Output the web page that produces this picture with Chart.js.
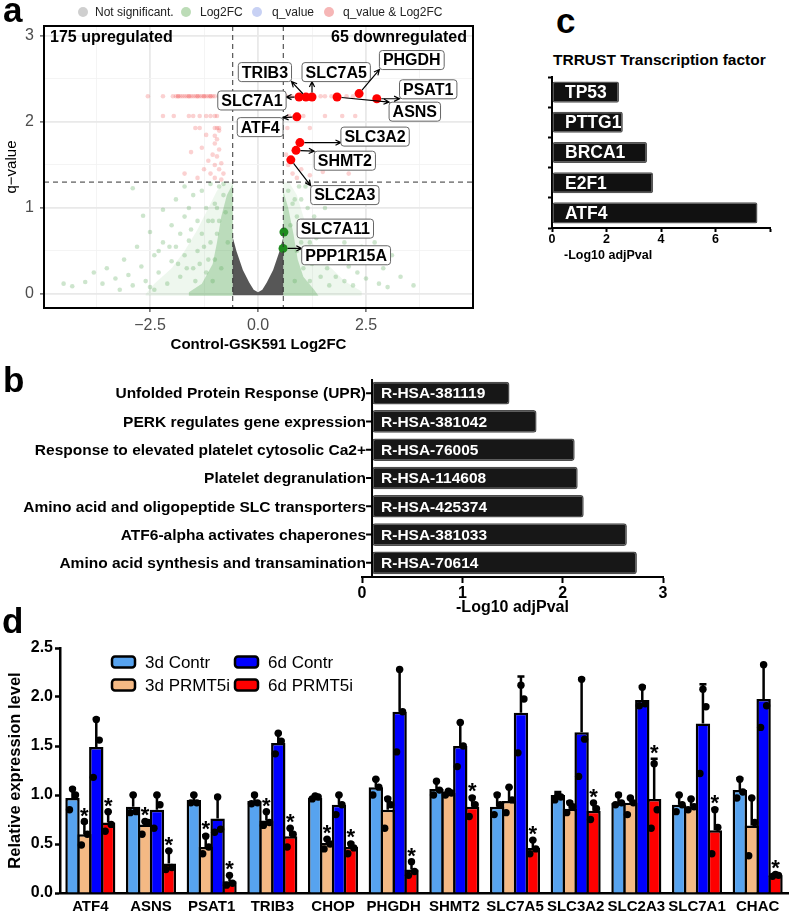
<!DOCTYPE html>
<html>
<head>
<meta charset="utf-8">
<script src="https://cdn.jsdelivr.net/npm/chart.js@4.4.1/dist/chart.umd.min.js"></script>
<style>
  body { margin: 0; background: #fff; width: 790px; height: 916px; position: relative; overflow: hidden;
         font-family: "Liberation Sans", Arial, sans-serif; }
  canvas { position: absolute; }
  .letter { position: absolute; font-weight: bold; font-size: 35px; line-height: 1; }
  .lg { position: absolute; top: 5px; font-size: 12px; color: #222; line-height: 14px; }
  .dot { position: absolute; top: 7px; width: 10px; height: 10px; border-radius: 50%; }
  .txt { position: absolute; font-weight: bold; white-space: nowrap; }
</style>
</head>
<body>
<canvas id="volcano" width="480" height="360" style="left:0;top:0"></canvas>
<canvas id="trrust" width="260" height="193" style="left:530px;top:70px"></canvas>
<canvas id="reactome" width="700" height="241" style="left:0;top:378px"></canvas>
<canvas id="qpcr" width="790" height="288" style="left:0;top:628px"></canvas>

<div class="letter" style="left:3px;top:-8px">a</div>
<div class="letter" style="left:3px;top:362px">b</div>
<div class="letter" style="left:556px;top:3px">c</div>
<div class="letter" style="left:2px;top:603px">d</div>

<div class="dot" style="left:78px;background:#cfcfcf"></div><div class="lg" style="left:95px">Not significant.</div>
<div class="dot" style="left:181px;background:#bcdcb7"></div><div class="lg" style="left:200px">Log2FC</div>
<div class="dot" style="left:252px;background:#c8d1f4"></div><div class="lg" style="left:272px">q_value</div>
<div class="dot" style="left:324px;background:#f6b6b6"></div><div class="lg" style="left:343px">q_value &amp; Log2FC</div>

<div class="txt" style="left:553px;top:51px;font-size:15.5px">TRRUST Transcription factor</div>
<div class="txt" style="left:564px;top:248px;font-size:12.5px">-Log10 adjPval</div>

<script>
Chart.defaults.font.family = '"Liberation Sans", Arial, sans-serif';
Chart.defaults.color = "#000";

// ---- panel a: volcano ----
const volcXTicks = [-3.75, -2.5, -1.25, 0, 1.25, 2.5, 3.75];
const volcXLabels = [-2.5, 0, 2.5];
const volcYTicks = [0, 0.5, 1, 1.5, 2, 2.5, 3];
const volcYLabels = [0, 1, 2, 3];
const fcCut = [-0.585, 0.585];
const qCut = 1.301;
const upCount = "175 upregulated";
const downCount = "65 downregulated";

// outline of the dense grey (not significant) cloud
const greyCloud = [[-0.585,-0.015],[-0.585,0.66],[-0.5,0.5],[-0.35,0.28],[-0.2,0.13],[-0.1,0.05],[0,0.02],
  [0.1,0.05],[0.2,0.13],[0.35,0.28],[0.5,0.5],[0.585,0.66],[0.585,-0.015]];
// outlines of the dense green clouds
const greenLightL = [[-0.585,-0.02],[-0.585,1.3],[-0.75,1.3],[-0.95,1.2],[-1.15,1.0],[-1.4,0.75],[-1.7,0.5],[-2.0,0.3],[-2.4,0.12],[-2.6,0.0],[-2.6,-0.02]];
const greenDenseL = [[-0.585,-0.02],[-0.585,1.28],[-0.72,1.15],[-0.85,0.9],[-0.95,0.6],[-1.05,0.35],[-1.3,0.12],[-1.6,0.02],[-1.6,-0.02]];
const greenLightR = [[0.585,-0.02],[0.585,1.3],[0.72,1.3],[0.9,1.15],[1.05,0.9],[1.25,0.6],[1.6,0.35],[2.0,0.15],[2.4,0.03],[2.4,-0.02]];
const greenDenseR = [[0.585,-0.02],[0.585,1.2],[0.7,1.0],[0.82,0.7],[0.92,0.4],[1.05,0.2],[1.3,0.05],[1.4,-0.02]];

const greenPts = [[-4.5,0.12],[-4.3,0.09],[-4.0,0.14],[-3.8,0.25],[-3.6,0.12],[-3.5,0.3],[-3.3,0.18],[-3.2,0.05],
  [-3.1,0.4],[-3.0,0.22],[-2.9,1.23],[-2.9,0.1],[-2.8,0.55],[-2.7,0.32],[-2.66,0.91],[-2.6,0.15],[-2.5,0.72],
  [-2.5,0.08],[-2.4,0.45],[-2.3,0.25],[-2.2,0.98],[-2.2,0.6],[-2.1,0.12],[-2.0,0.38],[-2.0,0.8],[-1.9,1.1],
  [-1.9,0.55],[-1.8,0.2],[-1.8,0.7],[-1.7,1.25],[-1.7,0.9],[-1.7,0.45],[-1.6,0.62],[-1.6,1.0],[-1.5,1.15],
  [-1.5,0.3],[-1.4,0.85],[-1.4,0.5],[-1.3,1.2],[-1.3,0.7],[-1.2,1.0],[-1.2,0.25],[-1.1,1.28],[-1.1,0.6],
  [-1.0,1.05],[-1.0,0.4],[-0.9,1.25],[-0.9,0.85],[-0.8,1.15],[-0.75,0.95],[-0.7,0.6],[-1.15,0.85],[-1.35,0.35],
  [-1.55,0.75],[-1.85,0.35],[-2.3,0.5],[-0.85,0.3],[-0.95,0.7],[-1.05,0.15],[-0.8,1.28],
  [-1.25,0.55],[-1.45,0.15],[-1.65,0.3],[-2.05,0.55],[-2.4,0.05],[-1.15,0.4],[-0.95,1.0],[-1.05,0.85],
  [0.7,1.2],[0.8,1.05],[0.9,0.9],[1.0,1.1],[1.1,0.8],[1.2,0.6],[1.3,0.9],[1.4,0.45],[1.5,0.7],[1.6,0.3],
  [1.7,0.5],[1.8,0.2],[1.9,0.4],[2.0,0.15],[2.1,0.32],[2.2,0.1],[2.3,0.25],[2.5,0.18],[2.6,0.4],[2.8,0.12],
  [2.9,0.3],[3.0,0.08],[3.3,0.2],[3.6,0.1],[1.3,1.2],[1.1,1.25],[1.55,1.0],[2.0,0.6],[2.4,0.55],[1.25,0.35],
  [0.9,0.5],[1.05,0.3],[0.75,0.8],[0.95,1.25],[1.15,1.0],[1.45,0.2],[1.75,0.75],[2.7,0.6],[3.1,0.45],[0.85,0.15],
  [1.0,0.6],[1.2,0.15],[1.35,0.65],[1.65,0.1],[2.15,0.45],[1.15,0.5],[0.85,1.1]];

const redPalePts = [[-2.55,2.3],[-2.2,2.3],[-1.97,2.3],[-1.9,2.3],[-1.85,2.3],[-1.8,2.3],[-1.75,2.3],[-1.7,2.3],
  [-1.65,2.3],[-1.6,2.3],[-1.55,2.3],[-1.5,2.3],[-1.45,2.3],[-1.4,2.3],[-1.35,2.3],[-1.3,2.3],[-1.25,2.3],
  [-1.2,2.3],[-1.15,2.3],[-1.1,2.3],[-1.05,2.3],[-1.0,2.3],[-0.9,2.3],[-1.85,2.3],[-1.6,2.3],[-1.4,2.3],
  [-1.25,2.3],[-1.1,2.3],[0.65,2.3],[0.78,2.3],[1.45,2.3],[1.55,2.3],[1.7,2.3],[2.05,2.3],[2.2,2.3],
  [-2.2,2.07],[-1.95,2.07],[-1.6,2.07],[-1.5,2.07],[-1.35,2.07],[-1.2,2.07],[-1.1,2.07],[-1.0,2.07],[-0.95,2.07],
  [0.72,2.07],[1.05,2.07],[1.55,2.07],[1.95,2.07],[2.25,2.07],
  [-1.45,1.93],[-1.35,1.93],[-1.0,1.93],[-0.95,1.93],[-0.9,1.93],[0.68,1.93],[1.2,1.93],
  [-1.2,1.85],[-0.95,1.8],[-1.0,1.75],[-1.3,1.7],[-0.9,1.68],[-1.05,1.62],[-0.95,1.6],[-1.15,1.55],[-0.85,1.52],
  [-1.0,1.5],[-1.25,1.45],[-0.9,1.45],[-1.1,1.4],[-0.8,1.4],[-1.4,1.35],[-1.0,1.35],[-0.85,1.33],[-1.55,1.65],
  [-1.7,1.4],[-0.9,1.9],[-1.0,1.84],
  [0.7,1.5],[0.8,1.4],[0.65,1.62],[1.0,1.45],[1.2,1.38],[1.5,1.42],[0.9,1.35],[2.1,1.4]];

// labelled significant genes (red) and labelled fold-change-only genes (green)
const hitGenes = ["SLC7A1", "TRIB3", "SLC7A5", "ASNS", "PHGDH", "PSAT1", "ATF4", "SLC3A2", "SHMT2", "SLC2A3"];
const hitFC = [0.95, 1.11, 1.25, 1.83, 2.34, 2.75, 0.90, 0.97, 0.88, 0.76];
const hitQ = [2.29, 2.29, 2.29, 2.29, 2.33, 2.27, 2.06, 1.76, 1.67, 1.56];
const hitLabX = [-0.14, 0.16, 1.81, 3.63, 3.56, 3.94, 0.05, 2.71, 2.01, 2.01];
const hitLabY = [2.25, 2.58, 2.58, 2.12, 2.72, 2.38, 1.94, 1.83, 1.55, 1.15];
const fcGenes = ["SLC7A11", "PPP1R15A"];
const fcFC = [0.60, 0.58];
const fcQ = [0.72, 0.53];
const fcLabX = [1.79, 2.04];
const fcLabY = [0.76, 0.45];
const fcArrow = [false, true];

// ---- panel b: reactome ----
const reactomeTerms = ["Unfolded Protein Response (UPR)", "PERK regulates gene expression",
  "Response to elevated platelet cytosolic Ca2+", "Platelet degranulation",
  "Amino acid and oligopeptide SLC transporters", "ATF6-alpha activates chaperones",
  "Amino acid synthesis and transamination"];
const reactomeIds = ["R-HSA-381119", "R-HSA-381042", "R-HSA-76005", "R-HSA-114608", "R-HSA-425374", "R-HSA-381033", "R-HSA-70614"];
const reactomeScore = [1.47, 1.74, 2.12, 2.15, 2.21, 2.64, 2.74];
const reactomeBase = 0.1;

// ---- panel c: TRRUST ----
const tfNames = ["TP53", "PTTG1", "BRCA1", "E2F1", "ATF4"];
const tfScore = [2.46, 2.6, 3.49, 3.71, 7.54];

// ---- panel d: qPCR ----
const genes = ["ATF4", "ASNS", "PSAT1", "TRIB3", "CHOP", "PHGDH", "SHMT2", "SLC7A5", "SLC3A2", "SLC2A3", "SLC7A1", "CHAC"];
const contr3 = [0.97, 0.88, 0.95, 0.94, 0.97, 1.08, 1.06, 0.88, 1.00, 0.92, 0.90, 1.05];
const prmt3 = [0.60, 0.70, 0.47, 0.74, 0.51, 0.85, 1.02, 0.94, 0.86, 0.92, 0.88, 0.69];
const contr6 = [1.49, 0.85, 0.76, 1.53, 0.90, 1.85, 1.50, 1.84, 1.64, 1.97, 1.73, 1.98];
const prmt6 = [0.72, 0.30, 0.12, 0.58, 0.47, 0.24, 0.88, 0.46, 0.84, 0.96, 0.64, 0.18];
const contr3Err = [1.07, 1.00, 1.00, 1.00, 0.99, 1.16, 1.14, 1.01, 1.03, 1.01, 1.00, 1.17];
const prmt3Err = [0.72, 0.73, 0.59, 0.83, 0.55, 0.97, 1.04, 1.08, 0.93, 0.97, 0.96, 0.97];
const contr6Err = [1.78, 1.00, 0.98, 1.63, 1.00, 2.28, 1.74, 2.21, 2.19, 2.11, 2.13, 2.33];
const prmt6Err = [0.83, 0.43, 0.18, 0.66, 0.51, 0.32, 0.98, 0.54, 0.92, 1.37, 0.86, 0.19];
const contr3Dots = [[1.06,1.0,0.85],[1.0,0.83,0.82],[1.0,0.92,0.92],[1.0,0.92,0.91],[0.99,0.98,0.96],[1.16,1.08,1.0],
  [1.14,1.05,1.0],[1.0,0.9,0.8],[1.0,0.98,0.95],[1.0,0.92,0.9],[1.0,0.9,0.83],[1.16,1.03,0.97]];
const prmt3Dots = [[0.73,0.6,0.49],[0.73,0.72,0.6],[0.58,0.47,0.4],[0.83,0.72,0.69],[0.55,0.5,0.45],[0.96,0.9,0.66],
  [1.04,1.02,1.0],[1.08,0.95,0.82],[0.92,0.88,0.82],[0.97,0.92,0.8],[0.96,0.88,0.85],[0.97,0.72,0.38]];
const contr6Dots = [[1.77,1.56,1.18],[1.0,0.9,0.66],[0.98,0.65,0.62],[1.63,1.55,1.42],[1.0,0.9,0.8],[2.28,1.85,1.44],
  [1.74,1.5,1.29],[2.12,1.98,1.43],[2.18,1.57,1.19],[2.1,1.93,1.91],[2.08,1.9,1.22],[2.33,1.91,1.69]];
const prmt6Dots = [[0.83,0.7,0.63],[0.43,0.26,0.24],[0.18,0.1,0.08],[0.66,0.6,0.47],[0.5,0.46,0.4],[0.32,0.22,0.18],
  [0.97,0.9,0.78],[0.54,0.45,0.4],[0.92,0.86,0.75],[1.32,0.85,0.66],[0.85,0.67,0.4],[0.19,0.18,0.17]];
const sig3 = [1, 1, 1, 1, 1, 0, 0, 0, 0, 0, 0, 0];
const sig6 = [1, 1, 1, 1, 1, 1, 1, 1, 1, 1, 1, 1];

const FONT = '"Liberation Sans", Arial, sans-serif';
const toXY = (arr) => arr.map((p) => ({ x: p[0], y: p[1] }));
const minus = (s) => s.replace("-", "\u2212");

function shape(pts, color, order) {
  return { type: "line", data: toXY(pts), fill: "shape", backgroundColor: color, borderWidth: 0,
           pointRadius: 0, tension: 0, order };
}

function arrow(ctx, x0, y0, x1, y1) {
  let a = Math.atan2(y1 - y0, x1 - x0);
  ctx.beginPath();
  ctx.moveTo(x0 + Math.cos(a) * 4.5, y0 + Math.sin(a) * 4.5);
  ctx.lineTo(x1, y1);
  ctx.moveTo(x1 - 6 * Math.cos(a - 0.45), y1 - 6 * Math.sin(a - 0.45));
  ctx.lineTo(x1, y1);
  ctx.lineTo(x1 - 6 * Math.cos(a + 0.45), y1 - 6 * Math.sin(a + 0.45));
  ctx.stroke();
}

function geneLabel(ctx, x, y, text, px, py, withArrow) {
  ctx.font = "bold 16px " + FONT;
  let w = ctx.measureText(text).width + 7, h = 19;
  let l = x - w / 2, t = y - h / 2;
  if (withArrow) {
    let ex = Math.min(Math.max(px, l), l + w);
    let ey = Math.min(Math.max(py, t), t + h);
    ctx.strokeStyle = "#000";
    ctx.lineWidth = 1.2;
    arrow(ctx, px, py, ex, ey);
  }
  ctx.fillStyle = "#fff";
  ctx.strokeStyle = "#666";
  ctx.lineWidth = 1;
  ctx.beginPath();
  ctx.roundRect(l, t, w, h, 3);
  ctx.fill();
  ctx.stroke();
  ctx.fillStyle = "#000";
  ctx.textAlign = "center";
  ctx.textBaseline = "middle";
  ctx.fillText(text, x, y + 1);
}

const volcanoExtras = {
  id: "volcanoExtras",
  afterDatasetsDraw(chart) {
    let { ctx, chartArea: area, scales: { x, y } } = chart;
    ctx.save();
    ctx.strokeStyle = "#333";
    ctx.lineWidth = 1;
    ctx.setLineDash([5, 4]);
    ctx.beginPath();
    fcCut.forEach((v) => {
      ctx.moveTo(x.getPixelForValue(v), area.top);
      ctx.lineTo(x.getPixelForValue(v), area.bottom);
    });
    ctx.moveTo(area.left, y.getPixelForValue(qCut));
    ctx.lineTo(area.right, y.getPixelForValue(qCut));
    ctx.stroke();
    ctx.setLineDash([]);

    hitGenes.forEach((g, i) => {
      geneLabel(ctx, x.getPixelForValue(hitLabX[i]), y.getPixelForValue(hitLabY[i]), g,
        x.getPixelForValue(hitFC[i]), y.getPixelForValue(hitQ[i]), true);
    });
    fcGenes.forEach((g, i) => {
      geneLabel(ctx, x.getPixelForValue(fcLabX[i]), y.getPixelForValue(fcLabY[i]), g,
        x.getPixelForValue(fcFC[i]), y.getPixelForValue(fcQ[i]), fcArrow[i]);
    });

    ctx.font = "bold 16px " + FONT;
    ctx.fillStyle = "#000";
    ctx.textBaseline = "middle";
    ctx.textAlign = "left";
    ctx.fillText(upCount, area.left + 6, area.top + 12);
    ctx.textAlign = "right";
    ctx.fillText(downCount, area.right - 6, area.top + 12);

    ctx.strokeStyle = "#000";
    ctx.lineWidth = 2;
    ctx.strokeRect(area.left, area.top, area.right - area.left, area.bottom - area.top);
    ctx.restore();
  },
};

const isMajor = (c, list) => c.tick && list.includes(c.tick.value);

new Chart(document.getElementById("volcano"), {
  type: "scatter",
  data: {
    datasets: [
      shape(greyCloud, "rgba(78,78,78,0.95)", 6),
      shape(greenLightL, "rgba(125,190,120,0.13)", 8),
      shape(greenLightR, "rgba(125,190,120,0.13)", 8),
      shape(greenDenseL, "rgba(70,160,70,0.3)", 7),
      shape(greenDenseR, "rgba(70,160,70,0.3)", 7),
      { data: toXY(greenPts), backgroundColor: "rgba(90,170,90,0.3)", pointRadius: 2.3, borderWidth: 0, order: 5 },
      { data: toXY(redPalePts), backgroundColor: "rgba(240,90,90,0.28)", pointRadius: 2.3, borderWidth: 0, order: 4 },
      { data: fcFC.map((v, i) => ({ x: v, y: fcQ[i] })), backgroundColor: "#1e8b1e", pointRadius: 4.5, borderWidth: 0, order: 1 },
      { data: hitFC.map((v, i) => ({ x: v, y: hitQ[i] })), backgroundColor: "#ff0000", pointRadius: 4.5, borderWidth: 0, order: 0 },
    ],
  },
  options: {
    responsive: false,
    animation: false,
    layout: { padding: { top: 26, right: 7, left: 0, bottom: 0 } },
    plugins: { legend: { display: false }, tooltip: { enabled: false } },
    scales: {
      x: {
        type: "linear", min: -4.954, max: 4.977,
        afterBuildTicks: (s) => { s.ticks = volcXTicks.map((v) => ({ value: v })); },
        afterFit: (s) => { s.height = 52; },
        ticks: { autoSkip: false, maxRotation: 0, color: "#4d4d4d", font: { size: 16 }, padding: 4,
                 callback: (v) => (volcXLabels.includes(v) ? minus(v.toFixed(1)) : "") },
        grid: { color: (c) => (isMajor(c, volcXLabels) ? "#e9e9e9" : "#f3f3f3"),
                lineWidth: (c) => (isMajor(c, volcXLabels) ? 1.8 : 0.9),
                tickColor: (c) => (isMajor(c, volcXLabels) ? "#333" : "rgba(0,0,0,0)"),
                tickLength: 4, tickWidth: 1.1 },
        border: { display: true, color: "#000", width: 2 },
        title: { display: true, text: "Control-GSK591 Log2FC", font: { size: 15, weight: "bold" }, padding: { top: 0, bottom: 6 } },
      },
      y: {
        type: "linear", min: -0.163, max: 3.116,
        afterBuildTicks: (s) => { s.ticks = volcYTicks.map((v) => ({ value: v })); },
        afterFit: (s) => { s.width = 44; },
        ticks: { autoSkip: false, color: "#4d4d4d", font: { size: 16 }, padding: 6,
                 callback: (v) => (volcYLabels.includes(v) ? String(v) : "") },
        grid: { color: (c) => (isMajor(c, volcYLabels) ? "#e9e9e9" : "#f3f3f3"),
                lineWidth: (c) => (isMajor(c, volcYLabels) ? 1.8 : 0.9),
                tickColor: (c) => (isMajor(c, volcYLabels) ? "#333" : "rgba(0,0,0,0)"),
                tickLength: 4, tickWidth: 1.1 },
        border: { display: true, color: "#000", width: 2 },
        title: { display: true, text: "q\u2212value", font: { size: 15 }, padding: { top: 3 } },
      },
    },
  },
  plugins: [volcanoExtras],
});

// ---- panel b ----
// the value axis starts at the offset y axis, so the category names and
// the y axis itself are drawn here next to the bars
const reactomeExtras = {
  id: "reactomeExtras",
  afterDatasetsDraw(chart) {
    let { ctx, chartArea: area, scales: { x } } = chart;
    let meta = chart.getDatasetMeta(0);
    let ax = x.getPixelForValue(reactomeBase);
    ctx.save();
    ctx.textBaseline = "middle";
    ctx.font = "bold 15.5px " + FONT;
    ctx.fillStyle = "#000";
    ctx.textAlign = "right";
    meta.data.forEach((bar, i) => ctx.fillText(chart.data.labels[i], ax - 6, bar.y + 1));
    ctx.fillStyle = "#fff";
    ctx.textAlign = "left";
    meta.data.forEach((bar, i) => ctx.fillText(reactomeIds[i], ax + 9, bar.y + 1));
    ctx.strokeStyle = "#000";
    ctx.lineWidth = 2;
    ctx.beginPath();
    ctx.moveTo(ax, area.top);
    ctx.lineTo(ax, area.bottom);
    meta.data.forEach((bar) => { ctx.moveTo(ax - 6, bar.y); ctx.lineTo(ax, bar.y); });
    ctx.stroke();
    ctx.restore();
  },
};

new Chart(document.getElementById("reactome"), {
  type: "bar",
  data: {
    labels: reactomeTerms,
    datasets: [{ data: reactomeScore, base: reactomeBase, backgroundColor: "#171717", borderColor: "#4d4d4d",
                 borderWidth: 1.5, borderRadius: 3, borderSkipped: false, categoryPercentage: 0.8, barPercentage: 1 }],
  },
  options: {
    indexAxis: "y",
    responsive: false,
    animation: false,
    layout: { padding: { top: 1, right: 37, left: 0, bottom: 0 } },
    plugins: { legend: { display: false }, tooltip: { enabled: false } },
    scales: {
      x: {
        min: 0, max: 3,
        afterFit: (s) => { s.height = 42; },
        ticks: { stepSize: 1, font: { size: 16, weight: "bold" }, padding: 1 },
        grid: { drawOnChartArea: false, tickLength: 6, tickWidth: 2, tickColor: "#000" },
        border: { display: true, color: "#000", width: 2 },
        title: { display: true, text: "-Log10 adjPval", font: { size: 16, weight: "bold" }, padding: { top: 0, bottom: 2 } },
      },
      y: {
        afterFit: (s) => { s.width = 362; },
        ticks: { display: false },
        grid: { display: false, drawTicks: false },
        border: { display: false },
      },
    },
  },
  plugins: [reactomeExtras],
});

// ---- panel c ----
const trrustExtras = {
  id: "trrustExtras",
  afterDatasetsDraw(chart) {
    let { ctx, scales: { x } } = chart;
    let meta = chart.getDatasetMeta(0);
    ctx.save();
    ctx.fillStyle = "#fff";
    ctx.font = "bold 17.5px " + FONT;
    ctx.textBaseline = "middle";
    ctx.textAlign = "left";
    meta.data.forEach((bar, i) => ctx.fillText(tfNames[i], x.getPixelForValue(0) + 13, bar.y + 1));
    ctx.restore();
  },
};

new Chart(document.getElementById("trrust"), {
  type: "bar",
  data: {
    labels: tfNames,
    datasets: [{ data: tfScore, backgroundColor: "#111", borderColor: "#555", borderWidth: 1.5, borderRadius: 2,
                 borderSkipped: false, categoryPercentage: 0.7, barPercentage: 1 }],
  },
  options: {
    indexAxis: "y",
    responsive: false,
    animation: false,
    layout: { padding: { top: 7, right: 20, left: 0, bottom: 0 } },
    plugins: { legend: { display: false }, tooltip: { enabled: false } },
    scales: {
      x: {
        min: 0, max: 8,
        afterFit: (s) => { s.height = 35; },
        ticks: { stepSize: 2, font: { size: 12.5, weight: "bold" }, padding: 0, callback: (v) => (v === 8 ? "" : v) },
        grid: { drawOnChartArea: false, tickLength: 4, tickWidth: 2, tickColor: "#000" },
        border: { display: true, color: "#000", width: 2 },
      },
      y: {
        afterFit: (s) => { s.width = 22; },
        ticks: { display: false },
        grid: { drawOnChartArea: false, tickLength: 4, tickWidth: 2, tickColor: "#000" },
        border: { display: true, color: "#000", width: 2 },
      },
    },
  },
  plugins: [trrustExtras],
});

// ---- panel d ----
const dotShift = [0, 3, -3];

const qpcrExtras = {
  id: "qpcrExtras",
  afterDatasetsDraw(chart) {
    let { ctx, chartArea: area, scales: { y } } = chart;
    ctx.save();
    chart.data.datasets.forEach((ds, di) => {
      let meta = chart.getDatasetMeta(di);
      meta.data.forEach((bar, i) => {
        let x = bar.x;
        let ey = y.getPixelForValue(ds.errTop[i]);
        ctx.strokeStyle = "#000";
        ctx.lineWidth = 2.5;
        ctx.beginPath();
        ctx.moveTo(x, bar.y);
        ctx.lineTo(x, ey);
        ctx.moveTo(x - 3.5, ey);
        ctx.lineTo(x + 3.5, ey);
        ctx.stroke();
        ctx.fillStyle = "#000";
        ds.dots[i].forEach((v, k) => {
          ctx.beginPath();
          ctx.arc(x + dotShift[k], y.getPixelForValue(v), 3.7, 0, Math.PI * 2);
          ctx.fill();
        });
        if (ds.sig && ds.sig[i]) {
          ctx.font = "bold 22px " + FONT;
          ctx.textAlign = "center";
          ctx.textBaseline = "alphabetic";
          ctx.fillText("*", x, ey + 1);
        }
      });
    });

    // legend, two columns
    chart.data.datasets.forEach((ds, di) => {
      let bx = area.left + 52 + (di >> 1) * 123;
      let by = area.top + 14 + (di & 1) * 23;
      ctx.fillStyle = ds.backgroundColor;
      ctx.strokeStyle = "#000";
      ctx.lineWidth = 2.5;
      ctx.beginPath();
      ctx.roundRect(bx, by - 5.5, 23, 11, 3);
      ctx.fill();
      ctx.stroke();
      ctx.fillStyle = "#000";
      ctx.font = "17px " + FONT;
      ctx.textAlign = "left";
      ctx.textBaseline = "middle";
      ctx.fillText(ds.label, bx + 33, by + 1);
    });
    ctx.restore();
  },
};

new Chart(document.getElementById("qpcr"), {
  type: "bar",
  data: {
    labels: genes,
    datasets: [
      { label: "3d Contr", data: contr3, errTop: contr3Err, dots: contr3Dots, sig: null, backgroundColor: "#57a3ef" },
      { label: "3d PRMT5i", data: prmt3, errTop: prmt3Err, dots: prmt3Dots, sig: sig3, backgroundColor: "#f4b984" },
      { label: "6d Contr", data: contr6, errTop: contr6Err, dots: contr6Dots, sig: null, backgroundColor: "#0000fe" },
      { label: "6d PRMT5i", data: prmt6, errTop: prmt6Err, dots: prmt6Dots, sig: sig6, backgroundColor: "#fe0000" },
    ],
  },
  options: {
    responsive: false,
    animation: false,
    datasets: { bar: { borderColor: "#000", borderWidth: 2.5, categoryPercentage: 0.784, barPercentage: 1.21 } },
    layout: { padding: { top: 20, right: 2, left: 0, bottom: 0 } },
    plugins: { legend: { display: false }, tooltip: { enabled: false } },
    scales: {
      x: {
        afterFit: (s) => { s.height = 23; },
        ticks: { autoSkip: false, maxRotation: 0, font: { size: 15, weight: "bold" }, padding: 5 },
        grid: { display: false, drawTicks: false },
        border: { display: true, color: "#000", width: 2.5 },
      },
      y: {
        min: 0, max: 2.5,
        afterFit: (s) => { s.width = 60; },
        ticks: { stepSize: 0.5, font: { size: 16, weight: "bold" }, padding: 2, callback: (v) => v.toFixed(1) },
        grid: { drawOnChartArea: false, tickLength: 5, tickWidth: 2.5, tickColor: "#000" },
        border: { display: true, color: "#000", width: 2.5 },
        title: { display: true, text: "Relative expression level", font: { size: 16.5, weight: "bold" }, padding: { top: 6 } },
      },
    },
  },
  plugins: [qpcrExtras],
});
</script>
</body>
</html>
